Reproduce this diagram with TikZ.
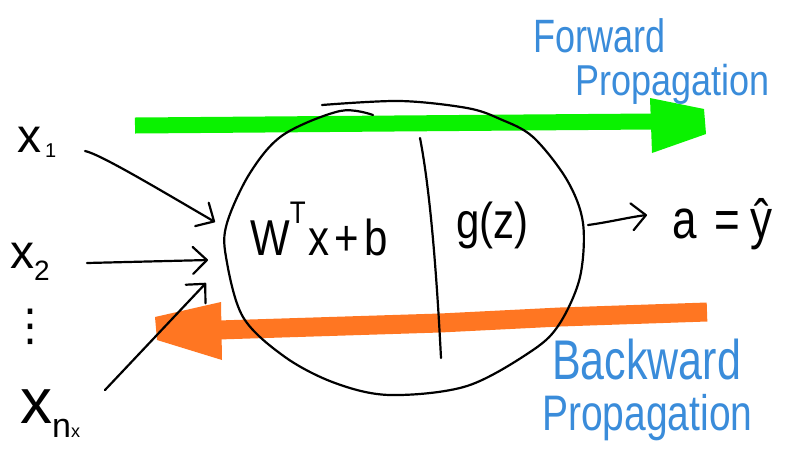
\documentclass[tikz,border=0pt]{standalone}
\usepackage{fontspec}
\setmainfont{Liberation Sans}
\newfontfamily\dejavu{DejaVu Sans}
\usepackage{graphicx}
\usetikzlibrary{arrows.meta}
\definecolor{fwdgreen}{RGB}{10,242,0}
\definecolor{bwdorange}{RGB}{255,118,34}
\definecolor{noteblue}{RGB}{58,140,218}
\begin{document}
\begin{tikzpicture}[x=1pt,y=-1pt,
  hw/.style={inner sep=0pt, anchor=base west, font=\fontsize{42}{46}\selectfont},
  inlabel/.style={inner sep=0pt, anchor=base west},
  ink/.style={line width=2.2pt, line cap=round, line join=round, black},
  barb/.style={ink, -{Straight Barb[length=14pt,width=27pt,round]}},
  note/.style={inner sep=0pt, anchor=base west, text=noteblue},
]
\useasboundingbox (0,0) rectangle (802,467);

% ---- forward propagation arrow (green)
\coordinate (fs) at (135,125.5);
\coordinate (fe) at (652,121.5);
\draw[line width=16pt, fwdgreen] (fs) -- (fe);
\fill[fwdgreen] (650,98) -- (704,109) -- (706,134) -- (652,153) -- cycle;

% ---- backward propagation arrow (orange)
\coordinate (bs) at (707,312);
\coordinate (bm1) at (560,317);
\coordinate (bm2) at (440,323);
\coordinate (be) at (218,330);
\draw[line width=19pt, bwdorange, line join=round] (bs) -- (bm1) -- (bm2) -- (be);
\fill[bwdorange] (221,302) -- (155,317) -- (157,340) -- (222,360) -- cycle;

% ---- neuron outline (hand-drawn ellipse)
\node[inner sep=0pt, minimum width=358pt, minimum height=295pt] (neuron) at (404,248) {};
\draw[ink] plot[smooth, tension=0.55] coordinates {(322,105) (400,101) (467,108) (500,119) (533,137) (567,180) (583,223) (580,277) (560,323) (533,350) (467,386) (390,395) (335,383) (285,357) (243,317) (226,257) (227,223) (250,173) (283,135) (340,111) (373,115)};
% divider
\coordinate (dt) at (420,138);
\coordinate (db) at (441,358);
\draw[ink] (dt) .. controls (432,200) and (438,300) .. (db);

% ---- texts inside the neuron
\node[hw] (wx) at (250,255) {\scalebox{1}[1.2]{W\raisebox{.62em}{\fontsize{26}{28}\selectfont T}\hspace{3pt}x\hspace{5pt}+\hspace{5pt}b}};
\node[hw] (gz) at (456,238) {\scalebox{1}[1.2]{g(z)}};

% ---- output
\node[hw, font=\fontsize{44}{48}\selectfont] (out) at (672,238) {\scalebox{1}[1.25]{a\hspace{18pt}=\hspace{10pt}\^{y}}};
\coordinate (os) at (588,225);
\coordinate (oe) at (647,215);
\draw[barb] (os) .. controls (610,222) and (630,217) .. (oe);

% ---- inputs
\node[inlabel, font=\fontsize{48}{50}\selectfont] (x1) at (17,152) {x\hspace{4pt}\raisebox{-5pt}{\fontsize{20}{22}\selectfont 1}};
\node[inlabel, font=\fontsize{48}{50}\selectfont] (x2) at (10,268) {x\raisebox{-12pt}{\fontsize{28}{30}\selectfont 2}};
\node[inner sep=0pt, font=\dejavu\fontsize{44}{44}\selectfont] (dots) at (31,327) {⋮};
\node[inlabel, font=\fontsize{64}{66}\selectfont] (xn) at (20,423) {x\raisebox{-14pt}{\fontsize{34}{36}\selectfont n{\fontsize{18}{20}\selectfont x}}};

\coordinate (a1s) at (85,151);
\coordinate (a1e) at (215,222);
\draw[barb] (a1s) .. controls (100,154) and (160,190) .. (a1e);
\coordinate (a2s) at (87,263);
\coordinate (a2e) at (208,260);
\draw[barb] (a2s) -- (a2e);
\coordinate (a3s) at (105,390);
\coordinate (a3e) at (206,283);
\draw[barb] (a3s) -- (a3e);

% ---- notes
\node[note, font=\fontsize{36}{40}\selectfont] (fwd1) at (533,52) {\scalebox{1}[1.3]{Forward}};
\node[note, font=\fontsize{36}{40}\selectfont] (fwd2) at (575,95) {\scalebox{1}[1.2]{Propagation}};
\node[note, font=\fontsize{43}{46}\selectfont] (bwd1) at (552,379) {\scalebox{1}[1.3]{Backward}};
\node[note, font=\fontsize{39}{42}\selectfont] (bwd2) at (542,430) {\scalebox{1}[1.28]{Propagation}};
\end{tikzpicture}
\end{document}
